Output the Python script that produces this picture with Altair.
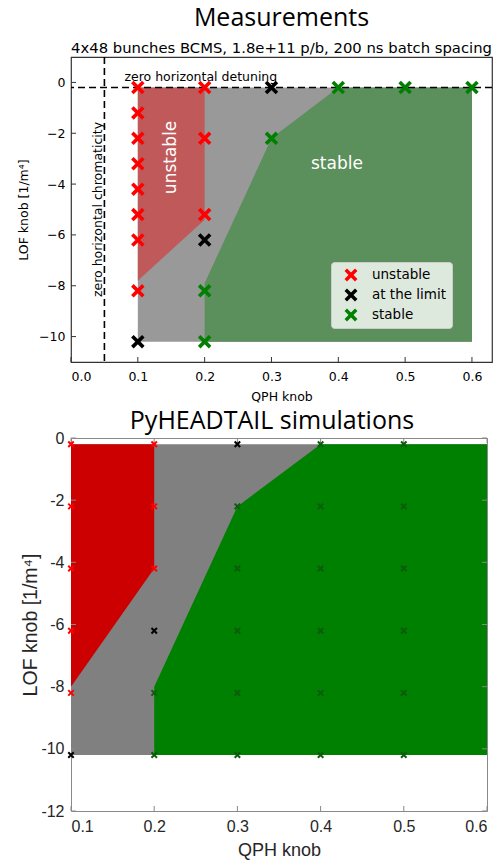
import altair as alt
import pandas as pd

# ---------------- Measurements (top panel) ----------------
meas_qph = [0.1, 0.1, 0.1, 0.1, 0.1, 0.1, 0.1, 0.1, 0.1,
            0.2, 0.2, 0.2, 0.2, 0.2, 0.2,
            0.3, 0.3,
            0.4, 0.5, 0.6]
meas_lof = [-0.2, -1.2, -2.2, -3.2, -4.2, -5.2, -6.2, -8.2, -10.2,
            -0.2, -2.2, -5.2, -6.2, -8.2, -10.2,
            -0.2, -2.2,
            -0.2, -0.2, -0.2]
meas_status = ["unstable"] * 8 + ["at the limit"] + \
              ["unstable", "unstable", "unstable", "at the limit", "stable", "stable"] + \
              ["at the limit", "stable"] + ["stable", "stable", "stable"]

meas_gray_qph = [0.1, 0.6]
meas_gray_top = [-0.2, -0.2]
meas_gray_bot = [-10.2, -10.2]
meas_red_qph = [0.1, 0.2]
meas_red_top = [-0.2, -0.2]
meas_red_bot = [-7.8, -5.4]
meas_green_qph = [0.2, 0.3, 0.4, 0.6]
meas_green_top = [-7.9, -2.2, -0.2, -0.2]
meas_green_bot = [-10.2, -10.2, -10.2, -10.2]

meas_xticks = [0.0, 0.1, 0.2, 0.3, 0.4, 0.5, 0.6]
meas_yticks = [-10, -8, -6, -4, -2, 0]
detuning_lof = [-0.2]
chromaticity_qph = [0.05]

# ---------------- PyHEADTAIL simulations (bottom panel) ----------------
sim_qph = [0.1, 0.1, 0.1, 0.1, 0.1, 0.1,
           0.2, 0.2, 0.2, 0.2, 0.2, 0.2,
           0.3, 0.3, 0.3, 0.3, 0.3, 0.3,
           0.4, 0.4, 0.4, 0.4, 0.4, 0.4,
           0.5, 0.5, 0.5, 0.5, 0.5, 0.5]
sim_lof = [-0.2, -2.2, -4.2, -6.2, -8.2, -10.2,
           -0.2, -2.2, -4.2, -6.2, -8.2, -10.2,
           -0.2, -2.2, -4.2, -6.2, -8.2, -10.2,
           -0.2, -2.2, -4.2, -6.2, -8.2, -10.2,
           -0.2, -2.2, -4.2, -6.2, -8.2, -10.2]
sim_status = ["unstable", "unstable", "unstable", "unstable", "unstable", "at the limit",
              "unstable", "unstable", "unstable", "at the limit", "stable", "stable",
              "at the limit", "stable", "stable", "stable", "stable", "stable",
              "stable", "stable", "stable", "stable", "stable", "stable",
              "stable", "stable", "stable", "stable", "stable", "stable"]

sim_gray_qph = [0.1, 0.6]
sim_gray_top = [-0.2, -0.2]
sim_gray_bot = [-10.2, -10.2]
sim_red_qph = [0.1, 0.2]
sim_red_top = [-0.2, -0.2]
sim_red_bot = [-8.0, -4.2]
sim_green_qph = [0.2, 0.3, 0.4, 0.6]
sim_green_top = [-8.0, -2.2, -0.2, -0.2]
sim_green_bot = [-10.2, -10.2, -10.2, -10.2]

sim_xticks = [0.1, 0.2, 0.3, 0.4, 0.5, 0.6]
sim_yticks = [-12, -10, -8, -6, -4, -2, 0]

status_order = ["unstable", "at the limit", "stable"]
XPATH = "M-1,-1L1,1M1,-1L-1,1"

# ======================= TOP PANEL =======================
TW, TH = 421, 305
tx = alt.Scale(domain=[0, 0.63], nice=False, zero=False)
ty = alt.Scale(domain=[-11, 1], nice=False, zero=False)
tfont = "DejaVu Sans"
tax_x = alt.Axis(title="QPH knob", values=meas_xticks, format=".1f", domain=False, ticks=False,
                 grid=False, labelFont=tfont, labelFontSize=12.5, labelColor="black",
                 labelPadding=8.5, titleFont=tfont, titleFontSize=12.5, titleFontWeight="normal",
                 titleColor="black", titlePadding=7)
tax_y = alt.Axis(title="LOF knob [1/m⁴]", values=meas_yticks, format="d", domain=False, ticks=False,
                 grid=False, labelFont=tfont, labelFontSize=12.5, labelColor="black",
                 labelPadding=6, titleFont=tfont, titleFontSize=12.5, titleFontWeight="normal",
                 titleColor="black", titlePadding=8)


def TX(f="qph"):
    return alt.X(f"{f}:Q", scale=tx, axis=tax_x)


def TY(f="lof"):
    return alt.Y(f"{f}:Q", scale=ty, axis=tax_y)


def region(qph, top, bot, color, X, Y):
    df = pd.DataFrame({"qph": qph, "lof": top, "lof2": bot})
    return alt.Chart(df).mark_area(color=color, opacity=1).encode(
        x=X(), y=Y(), y2="lof2:Q")


t_gray = region(meas_gray_qph, meas_gray_top, meas_gray_bot, "#999999", TX, TY)
t_red = region(meas_red_qph, meas_red_top, meas_red_bot, "#c05a5a", TX, TY)
t_green = region(meas_green_qph, meas_green_top, meas_green_bot, "#5b8f5b", TX, TY)

t_hline = alt.Chart(pd.DataFrame({"lof": detuning_lof})).mark_rule(
    color="black", strokeWidth=1.6, strokeDash=[7, 4]).encode(y=TY())
t_vline = alt.Chart(pd.DataFrame({"qph": chromaticity_qph})).mark_rule(
    color="black", strokeWidth=1.6, strokeDash=[7, 4]).encode(x=TX())

t_ticks_x = alt.Chart(pd.DataFrame({"qph": meas_xticks})).mark_rule(
    color="#333333", strokeWidth=1).encode(x=TX(), y=alt.value(TH), y2=alt.value(TH - 5))
t_ticks_y = alt.Chart(pd.DataFrame({"lof": meas_yticks})).mark_rule(
    color="#333333", strokeWidth=1).encode(y=TY(), x=alt.value(0), x2=alt.value(5))

t_txt_det = alt.Chart(pd.DataFrame({"qph": [0.08], "lof": [0.05], "t": ["zero horizontal detuning"]})).mark_text(
    font=tfont, fontSize=12.5, color="black", align="left", baseline="alphabetic").encode(
    x=TX(), y=TY(), text="t:N")
t_txt_chr = alt.Chart(pd.DataFrame({"qph": [0.04], "lof": [-5.0], "t": ["zero horizontal chromaticity"]})).mark_text(
    font=tfont, fontSize=12.5, color="black", align="center", baseline="middle", angle=270).encode(
    x=TX(), y=TY(), text="t:N")
t_txt_uns = alt.Chart(pd.DataFrame({"qph": [0.15], "lof": [-2.95], "t": ["unstable"]})).mark_text(
    font=tfont, fontSize=17, color="white", align="center", baseline="middle", angle=270).encode(
    x=TX(), y=TY(), text="t:N")
t_txt_sta = alt.Chart(pd.DataFrame({"qph": [0.398], "lof": [-3.2], "t": ["stable"]})).mark_text(
    font=tfont, fontSize=17, color="white", align="center", baseline="middle").encode(
    x=TX(), y=TY(), text="t:N")

t_pts = alt.Chart(pd.DataFrame({"qph": meas_qph, "lof": meas_lof, "status": meas_status})).mark_point(
    shape=XPATH, filled=False, size=120, strokeWidth=3.6, opacity=1).encode(
    x=TX(), y=TY(),
    color=alt.Color("status:N", scale=alt.Scale(domain=status_order, range=["#ff0000", "#000000", "#008000"]),
                    legend=alt.Legend(title=None, orient="none", legendX=260, legendY=205,
                                      symbolType=XPATH, symbolSize=110, symbolStrokeWidth=3.5,
                                      labelFont=tfont, labelFontSize=13.5, labelColor="black",
                                      fillColor="rgba(255,255,255,0.8)", strokeColor="#cccccc",
                                      cornerRadius=3, padding=6, rowPadding=6, clipHeight=14,
                                      symbolOffset=7, labelOffset=14)))

top = alt.layer(t_gray, t_red, t_green, t_hline, t_vline, t_ticks_x, t_ticks_y,
                t_txt_det, t_txt_chr, t_txt_uns, t_txt_sta, t_pts).properties(
    width=TW, height=TH,
    title=alt.TitleParams("Measurements",
                          subtitle="4x48 bunches BCMS, 1.8e+11 p/b, 200 ns batch spacing",
                          font="Open Sans", fontSize=25, fontWeight="normal", color="black",
                          subtitleFont=tfont, subtitleFontSize=14.8, subtitleColor="black",
                          subtitlePadding=10, offset=0, anchor="middle"),
    view=alt.ViewBackground(stroke="#333333", strokeWidth=1.2))

# ======================= BOTTOM PANEL =======================
BW, BH = 416, 373
bx = alt.Scale(domain=[0.1, 0.6], nice=False, zero=False)
by = alt.Scale(domain=[-12, 0], nice=False, zero=False)
bfont = "Liberation Sans"
bax_x = alt.Axis(title="QPH knob", values=sim_xticks, format=".1f", domain=False, ticks=False,
                 grid=False, labelFont=bfont, labelFontSize=16, labelColor="#262626",
                 labelPadding=7, titleFont=bfont, titleFontSize=18, titleFontWeight="normal",
                 titleColor="#262626", titlePadding=7)
bax_y = alt.Axis(title="LOF knob [1/m⁴]", values=sim_yticks, format="d", domain=False, ticks=False,
                 grid=False, labelFont=bfont, labelFontSize=16, labelColor="#262626",
                 labelExpr="replace(datum.label, '\u2212', '-')",
                 labelPadding=7, titleFont=bfont, titleFontSize=19.5, titleFontWeight="normal",
                 titleColor="#262626", titlePadding=0)


def BX(f="qph"):
    return alt.X(f"{f}:Q", scale=bx, axis=bax_x)


def BY(f="lof"):
    return alt.Y(f"{f}:Q", scale=by, axis=bax_y)


b_gray = region(sim_gray_qph, sim_gray_top, sim_gray_bot, "#808080", BX, BY)
b_red = region(sim_red_qph, sim_red_top, sim_red_bot, "#cc0000", BX, BY)
b_green = region(sim_green_qph, sim_green_top, sim_green_bot, "#008000", BX, BY)

tk = dict(color="#888888", strokeWidth=1)
b_ticks_xb = alt.Chart(pd.DataFrame({"qph": sim_xticks})).mark_rule(**tk).encode(
    x=BX(), y=alt.value(BH), y2=alt.value(BH - 5))
b_ticks_xt = alt.Chart(pd.DataFrame({"qph": sim_xticks})).mark_rule(**tk).encode(
    x=BX(), y=alt.value(0), y2=alt.value(5))
b_ticks_yl = alt.Chart(pd.DataFrame({"lof": sim_yticks})).mark_rule(**tk).encode(
    y=BY(), x=alt.value(0), x2=alt.value(5))
b_ticks_yr = alt.Chart(pd.DataFrame({"lof": sim_yticks})).mark_rule(**tk).encode(
    y=BY(), x=alt.value(BW - 5), x2=alt.value(BW))

b_pts = alt.Chart(pd.DataFrame({"qph": sim_qph, "lof": sim_lof, "status": sim_status})).mark_point(
    shape=XPATH, filled=False, size=30, strokeWidth=2, opacity=1).encode(
    x=BX(), y=BY(),
    color=alt.Color("status:N", scale=alt.Scale(domain=status_order, range=["#ff0000", "#000000", "#0b5c0b"]),
                    legend=None))

bottom = alt.layer(b_gray, b_red, b_green, b_ticks_xb, b_ticks_xt, b_ticks_yl, b_ticks_yr, b_pts).properties(
    width=BW, height=BH,
    title=alt.TitleParams("PyHEADTAIL simulations", font="Open Sans", fontSize=25, fontWeight="normal",
                          color="black", offset=-4, anchor="middle", dx=-7),
    view=alt.ViewBackground(stroke="#8a8a8a", strokeWidth=1))

chart = alt.vconcat(top, bottom, spacing=4).resolve_scale(color="independent").properties(
    padding={"left": 17, "top": 5, "right": 5, "bottom": 5}
).configure(background="white")

chart.save("out.html", embed_options={"renderer": "svg", "actions": False})
